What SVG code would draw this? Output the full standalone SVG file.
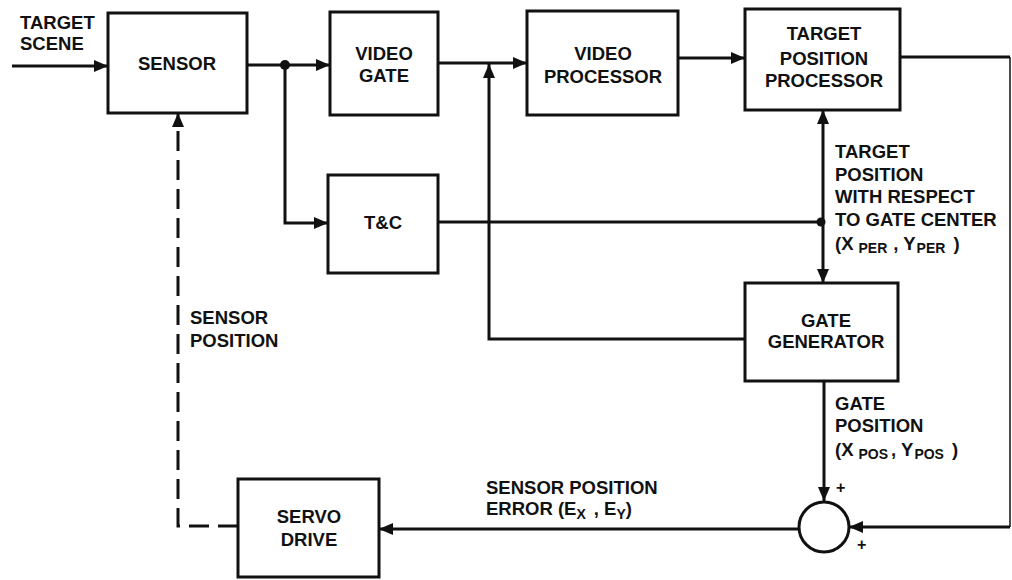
<svg xmlns="http://www.w3.org/2000/svg" width="1012" height="580" viewBox="0 0 1012 580">
<defs>
<style>
.box{fill:#fff;stroke:#111;stroke-width:3}
.ln{fill:none;stroke:#111;stroke-width:3}
.thin{fill:none;stroke:#111;stroke-width:1.5}
.dash{fill:none;stroke:#111;stroke-width:3;stroke-dasharray:20 9}
text{font-family:"Liberation Sans",Arial,sans-serif;font-weight:bold;font-size:18.5px;fill:#111}
.c{text-anchor:middle}
.sub{font-size:14px}
.pl{font-size:16px}
</style>
<marker id="ah" viewBox="0 0 14 12" refX="14" refY="6" markerWidth="14" markerHeight="12" markerUnits="userSpaceOnUse" orient="auto">
<path d="M0,0 L14,6 L0,12 Z" fill="#111"/>
</marker>
</defs>
<rect width="1012" height="580" fill="#fff"/>

<g id="connectors">
<path class="ln" d="M12,66 H108" marker-end="url(#ah)"/>
<path class="ln" d="M247,65 H330" marker-end="url(#ah)"/>
<path class="ln" d="M285,65 V223 H328" marker-end="url(#ah)"/>
<path class="ln" d="M438,63 H527" marker-end="url(#ah)"/>
<path class="ln" d="M678,58 H745" marker-end="url(#ah)"/>
<path class="ln" d="M900,57 H1010"/>
<path class="thin" d="M1010,57 V527"/>
<path class="ln" d="M1010,527 H849" marker-end="url(#ah)"/>
<path class="ln" d="M438,222 H823"/>
<path class="ln" d="M823,222 V110" marker-end="url(#ah)"/>
<path class="ln" d="M823,222 V283" marker-end="url(#ah)"/>
<path class="ln" d="M745,339 H489 V64" marker-end="url(#ah)"/>
<path class="ln" d="M824,381 V501" marker-end="url(#ah)"/>
<path class="ln" d="M799,529 H379" marker-end="url(#ah)"/>
<path class="dash" d="M238,526 H178 V113" marker-end="url(#ah)"/>
<circle cx="285" cy="65" r="5" fill="#111"/>
<circle cx="821" cy="222" r="4.5" fill="#111"/>
</g>

<g id="sensor">
<rect class="box" x="108" y="13" width="139" height="100"/>
<text class="c" x="177" y="70">SENSOR</text>
</g>
<g id="video-gate">
<rect class="box" x="330" y="12" width="108" height="103"/>
<text class="c" x="384" y="60">VIDEO</text>
<text class="c" x="384" y="82">GATE</text>
</g>
<g id="video-processor">
<rect class="box" x="527" y="11" width="151" height="104"/>
<text class="c" x="603" y="60">VIDEO</text>
<text class="c" x="603" y="83">PROCESSOR</text>
</g>
<g id="target-position-processor">
<rect class="box" x="745" y="9" width="155" height="101"/>
<text class="c" x="824" y="40">TARGET</text>
<text class="c" x="824" y="65">POSITION</text>
<text class="c" x="824" y="87">PROCESSOR</text>
</g>
<g id="tc">
<rect class="box" x="328" y="175" width="110" height="98"/>
<text class="c" x="383" y="229">T&amp;C</text>
</g>
<g id="gate-generator">
<rect class="box" x="745" y="283" width="153" height="98"/>
<text class="c" x="826" y="327">GATE</text>
<text class="c" x="826" y="348">GENERATOR</text>
</g>
<g id="servo-drive">
<rect class="box" x="238" y="479" width="141" height="98"/>
<text class="c" x="309" y="523">SERVO</text>
<text class="c" x="309" y="546">DRIVE</text>
</g>
<g id="summing-junction">
<circle cx="824" cy="527" r="25" fill="#fff" stroke="#111" stroke-width="3"/>
<text class="pl" x="836" y="493">+</text>
<text class="pl" x="857" y="550">+</text>
</g>

<g id="labels">
<text x="20" y="29">TARGET</text>
<text x="20" y="50">SCENE</text>
<text x="835" y="158">TARGET</text>
<text x="835" y="181">POSITION</text>
<text x="835" y="203">WITH RESPECT</text>
<text x="835" y="226">TO GATE CENTER</text>
<text x="835" y="250">(X<tspan class="sub" dx="5" dy="3">PER</tspan><tspan dx="6" dy="-3">, Y</tspan><tspan class="sub" dx="1" dy="3">PER</tspan><tspan dx="8" dy="-3">)</tspan></text>
<text x="835" y="410">GATE</text>
<text x="835" y="432">POSITION</text>
<text x="835" y="456">(X<tspan class="sub" dx="5" dy="3">POS</tspan><tspan dx="3" dy="-3">, Y</tspan><tspan class="sub" dx="1" dy="3">POS</tspan><tspan dx="8" dy="-3">)</tspan></text>
<text x="190" y="324">SENSOR</text>
<text x="190" y="347">POSITION</text>
<text x="486" y="494">SENSOR POSITION</text>
<text x="486" y="515">ERROR (E<tspan class="sub" dy="4">X</tspan><tspan dx="8" dy="-4">, E</tspan><tspan class="sub" dy="4">Y</tspan><tspan dy="-4">)</tspan></text>
</g>
</svg>
